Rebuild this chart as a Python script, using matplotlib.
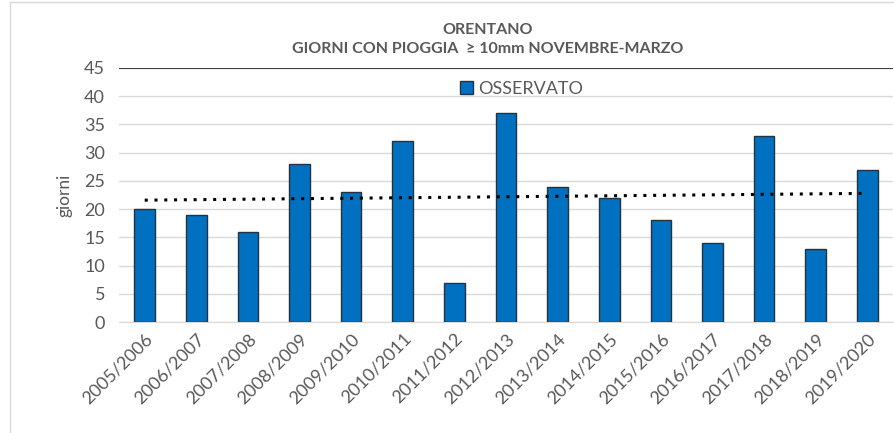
import matplotlib.pyplot as plt
import numpy as np
from matplotlib.lines import Line2D

plt.rcParams['font.family'] = ['Lato', 'DejaVu Sans']

seasons = ["2005/2006", "2006/2007", "2007/2008", "2008/2009", "2009/2010",
           "2010/2011", "2011/2012", "2012/2013", "2013/2014", "2014/2015",
           "2015/2016", "2016/2017", "2017/2018", "2018/2019", "2019/2020"]
giorni = [20, 19, 16, 28, 23, 32, 7, 37, 24, 22, 18, 14, 33, 13, 27]

fig = plt.figure(figsize=(8.94, 4.33), dpi=100)
ax = fig.add_axes([0.133, 0.256, 0.866, 0.587])

x = np.arange(len(seasons))
ax.bar(x, giorni, width=0.4, color='#0070C0', edgecolor='#26323d', linewidth=1.0,
       label='OSSERVATO', zorder=3)

# linear trend line
coef = np.polyfit(x, giorni, 1)
ax.plot(x, np.polyval(coef, x), color='black', linestyle=(0, (1, 2.2)),
        linewidth=2.2, zorder=4)

ax.set_xlim(-0.5, len(seasons) - 0.5)
ax.set_ylim(0, 45)
ax.set_yticks(range(0, 46, 5))
ax.yaxis.grid(True, color='#d9d9d9', linewidth=1, zorder=0)
ax.axhline(45, color='#404040', linewidth=1.5, zorder=5)
ax.set_xticks(x)
ax.set_xticklabels(seasons, rotation=45, ha='right', rotation_mode='anchor',
                   fontsize=13, color='#595959')
ax.tick_params(axis='y', labelsize=13, labelcolor='#595959', length=0, pad=10)
ax.tick_params(axis='x', length=0, pad=6)
for s in ['top', 'right', 'left']:
    ax.spines[s].set_visible(False)
ax.spines['bottom'].set_color('#d9d9d9')
ax.set_ylabel('giorni', fontsize=12.5, color='#595959', labelpad=8)

ax.legend(loc='upper center', bbox_to_anchor=(0.52, 1.0), frameon=False,
          fontsize=13, labelcolor='#595959', handlelength=0.7, handleheight=0.7,
          handletextpad=0.3, borderaxespad=0.3)

fig.text(0.546, 0.93, 'ORENTANO', ha='center', va='center', fontsize=11.5,
         fontweight='bold', color='#595959')
fig.text(0.546, 0.886, 'GIORNI CON PIOGGIA  \u2265 10mm NOVEMBRE-MARZO', ha='center',
         va='center', fontsize=11.5, fontweight='bold', color='#595959')

# chart border
fig.add_artist(Line2D([0.011, 0.011], [0, 0.995], color='#d9d9d9', linewidth=1))
fig.add_artist(Line2D([0.011, 1.0], [0.995, 0.995], color='#d9d9d9', linewidth=1))

fig.savefig('out.png', dpi=100)
